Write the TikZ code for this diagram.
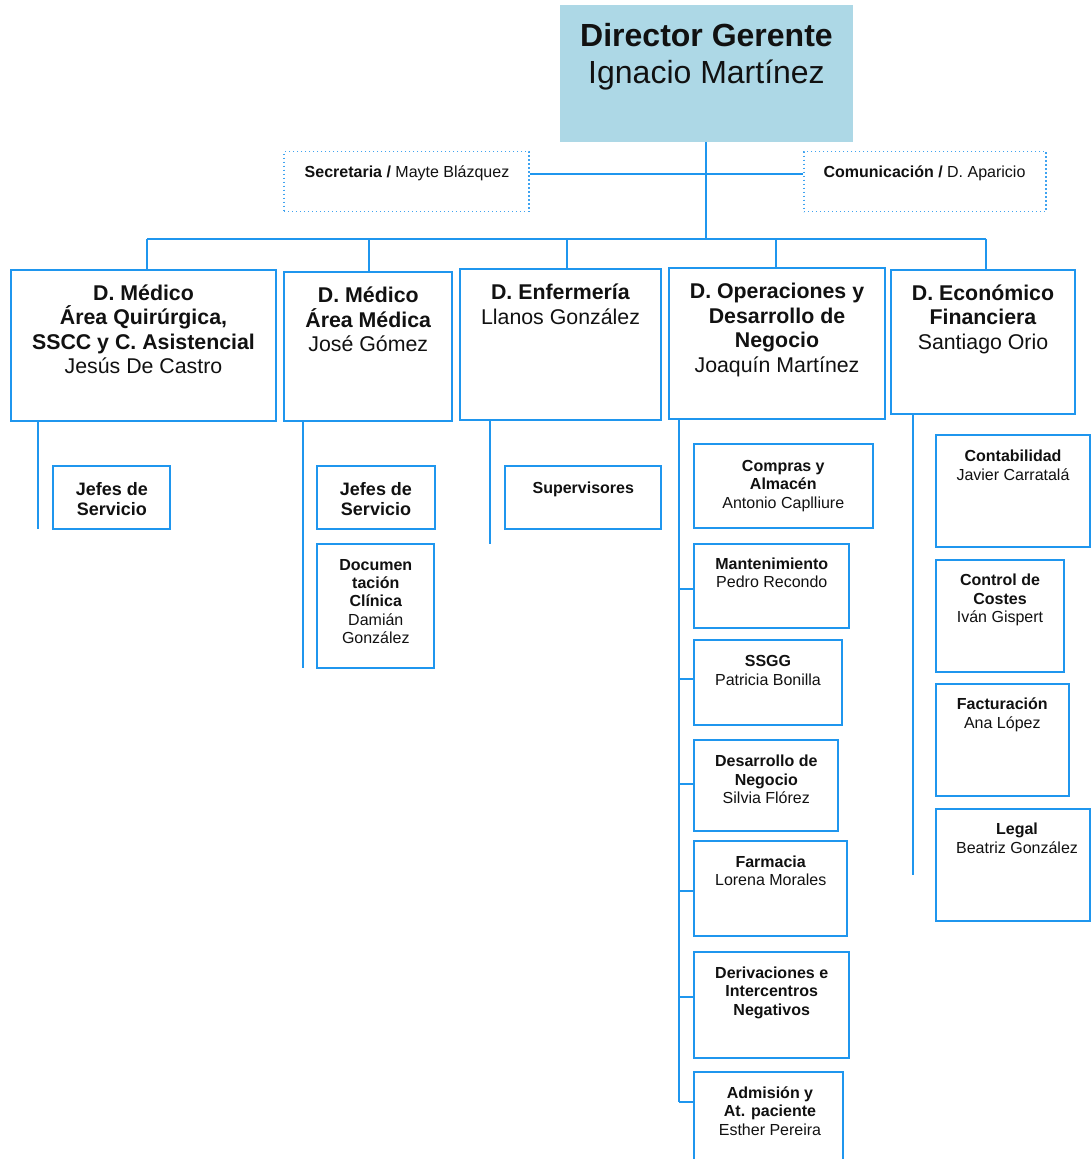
\documentclass[tikz,border=0pt]{standalone}
\usepackage{fontspec}
\setmainfont{Liberation Sans}
\usetikzlibrary{fit}
\definecolor{lineblue}{HTML}{1F96EE}
\definecolor{dotblue}{HTML}{3FA3F0}
\definecolor{dirfill}{RGB}{173,216,230}
\definecolor{ink}{HTML}{111111}
\newcommand\fl{\rule{0pt}{1em}}
\begin{document}
\begin{tikzpicture}[x=0.75pt,y=-0.75pt,
  box/.style={draw=lineblue, line width=1.5pt, inner sep=0pt},
  dotbox/.style={draw=dotblue, dotted, line width=1pt, inner sep=0pt},
  dirbox/.style={fill=dirfill, draw=none, inner sep=0pt},
  conn/.style={draw=lineblue, line width=1.45pt},
  txt/.style={anchor=north, inner sep=0pt, align=center, text=ink},
  fbig/.style={font=\fontsize{24pt}{27.6pt}\selectfont},
  fhead/.style={font=\fontsize{16pt}{18.4pt}\selectfont},
  fmid/.style={font=\fontsize{13.5pt}{15.5pt}\selectfont},
  fsmall/.style={font=\fontsize{12pt}{13.8pt}\selectfont},
  fsec/.style={font=\fontsize{12pt}{13.8pt}\selectfont}
]
\clip (0,0) rectangle (1091,1159);
\fill[white] (0,0) rectangle (1091,1159);

% --- top
\node[dirbox, fit={(560,5) (852.7,141.7)}] (dir) {};
\node[txt, fbig] (dirt) at (706.5,14) {\fl\textbf{Director Gerente}\\Ignacio Martínez};

\node[dotbox, fit={(284,151.7) (529,211.7)}] (sec) {};
\node[txt, fsec] (sect) at (407,161.2) {\fl\textbf{Secretaria /} Mayte Blázquez};
\node[dotbox, fit={(804,151.7) (1046,211.7)}] (com) {};
\node[txt, fsec] (comt) at (924.5,161.2) {\fl\textbf{Comunicación /} D. Aparicio};

% --- directors
\node[box, fit={(11,270) (276,421)}] (c1) {};
\node[txt, fhead] (c1t) at (143.5,278.7) {\fl\textbf{D. Médico}\\\textbf{Área Quirúrgica,}\\\textbf{SSCC y C. Asistencial}\\Jesús De Castro};
\node[box, fit={(284.3,271.7) (452.3,421)}] (c2) {};
\node[txt, fhead] (c2t) at (368.3,281) {\fl\textbf{D. Médico}\\\textbf{Área Médica}\\José Gómez};
\node[box, fit={(460,269) (661,419.5)}] (c3) {};
\node[txt, fhead] (c3t) at (560.5,278.2) {\fl\textbf{D. Enfermería}\\Llanos González};
\node[box, fit={(669,268) (885,419)}] (c4) {};
\node[txt, fhead] (c4t) at (777,277) {\fl\textbf{D. Operaciones y}\\\textbf{Desarrollo de}\\\textbf{Negocio}\\Joaquín Martínez};
\node[box, fit={(890.7,269.5) (1075,413.7)}] (c5) {};
\node[txt, fhead] (c5t) at (983,278.7) {\fl\textbf{D. Económico}\\\textbf{Financiera}\\Santiago Orio};

% --- column 1,2,3 children
\node[box, fit={(53.3,465.7) (170.3,529.3)}] (j1) {};
\node[txt, fmid] (j1t) at (111.8,476.8) {\fl\textbf{Jefes de}\\\textbf{Servicio}};
\node[box, fit={(317.3,465.7) (434.5,529.3)}] (j2) {};
\node[txt, fmid] (j2t) at (376,476.8) {\fl\textbf{Jefes de}\\\textbf{Servicio}};
\node[box, fit={(317.3,543.7) (434.3,668.3)}] (doc) {};
\node[txt, fsmall] (doct) at (375.8,553.8) {\fl\textbf{Documen}\\\textbf{tación}\\\textbf{Clínica}\\Damián\\González};
\node[box, fit={(505.3,466.3) (661.3,529.3)}] (sup) {};
\node[txt, fsmall] (supt) at (583.3,476.8) {\fl\textbf{Supervisores}};

% --- column 4 children
\node[box, fit={(694.3,444.3) (872.7,528.3)}] (comp) {};
\node[txt, fsmall] (compt) at (783.3,455.2) {\fl\textbf{Compras y}\\\textbf{Almacén}\\Antonio Caplliure};
\node[box, fit={(694.3,543.7) (849.3,628.3)}] (mant) {};
\node[txt, fsmall] (mantt) at (771.8,552.8) {\fl\textbf{Mantenimiento}\\Pedro Recondo};
\node[box, fit={(694.3,640.3) (842,725)}] (ssgg) {};
\node[txt, fsmall] (ssggt) at (768,650.5) {\fl\textbf{SSGG}\\Patricia Bonilla};
\node[box, fit={(694.3,740.3) (838.3,830.7)}] (desa) {};
\node[txt, fsmall] (desat) at (766.3,750.5) {\fl\textbf{Desarrollo de}\\\textbf{Negocio}\\Silvia Flórez};
\node[box, fit={(694.3,841.3) (847.3,936.3)}] (farm) {};
\node[txt, fsmall] (farmt) at (770.7,851.2) {\fl\textbf{Farmacia}\\Lorena Morales};
\node[box, fit={(694.3,951.7) (849.3,1057.7)}] (deri) {};
\node[txt, fsmall] (derit) at (771.7,962.2) {\fl\textbf{Derivaciones e}\\\textbf{Intercentros}\\\textbf{Negativos}};
\node[box, fit={(694.3,1072.3) (843,1180)}] (admi) {};
\node[txt, fsmall] (admit) at (770,1082.2) {\fl\textbf{Admisión y}\\\textbf{At. paciente}\\Esther Pereira};

% --- column 5 children
\node[box, fit={(935.7,435.4) (1090,547)}] (cont) {};
\node[txt, fsmall] (contt) at (1013,445.5) {\fl\textbf{Contabilidad}\\Javier Carratalá};
\node[box, fit={(935.7,560) (1064,672.3)}] (ctrl) {};
\node[txt, fsmall] (ctrlt) at (1000,569.5) {\fl\textbf{Control de}\\\textbf{Costes}\\Iván Gispert};
\node[box, fit={(935.7,684.4) (1068.7,796.2)}] (fact) {};
\node[txt, fsmall] (factt) at (1002.3,693.5) {\fl\textbf{Facturación}\\Ana López};
\node[box, fit={(935.7,808.7) (1090,920.5)}] (legal) {};
\node[txt, fsmall] (legalt) at (1017,818.5) {\fl\textbf{Legal}\\Beatriz González};

% --- connectors
\coordinate (secy) at (0,173.7);
\coordinate (b1) at (147.3,239.3);
\coordinate (b2) at (368.7,239.3);
\coordinate (b3) at (567,239.3);
\coordinate (b4) at (776,239.3);
\coordinate (b5) at (986,239.3);
\draw[conn] (dir.south) -- (dir.south |- b1);
\draw[conn] (sec.east |- secy) -- (com.west |- secy);
\draw[conn] (b1) -- (b5);
\draw[conn] (b1) -- (b1 |- c1.north);
\draw[conn] (b2) -- (b2 |- c2.north);
\draw[conn] (b3) -- (b3 |- c3.north);
\draw[conn] (b4) -- (b4 |- c4.north);
\draw[conn] (b5) -- (b5 |- c5.north);

\coordinate (e1) at (38.3,529.3);
\coordinate (e2) at (302.7,668.3);
\coordinate (e3) at (489.7,544);
\coordinate (e4) at (679,1102.3);
\coordinate (e5) at (912.7,875);
\draw[conn] (e1 |- c1.south) -- (e1);
\draw[conn] (e2 |- c2.south) -- (e2);
\draw[conn] (e3 |- c3.south) -- (e3);
\draw[conn] (e4 |- c4.south) -- (e4);
\draw[conn] (e5 |- c5.south) -- (e5);

\draw[conn] (e4 |- 0,589) -- (mant.west |- 0,589);
\draw[conn] (e4 |- 0,679) -- (ssgg.west |- 0,679);
\draw[conn] (e4 |- 0,784) -- (desa.west |- 0,784);
\draw[conn] (e4 |- 0,891) -- (farm.west |- 0,891);
\draw[conn] (e4 |- 0,997) -- (deri.west |- 0,997);
\draw[conn] (e4) -- (admi.west |- e4);
\end{tikzpicture}
\end{document}
